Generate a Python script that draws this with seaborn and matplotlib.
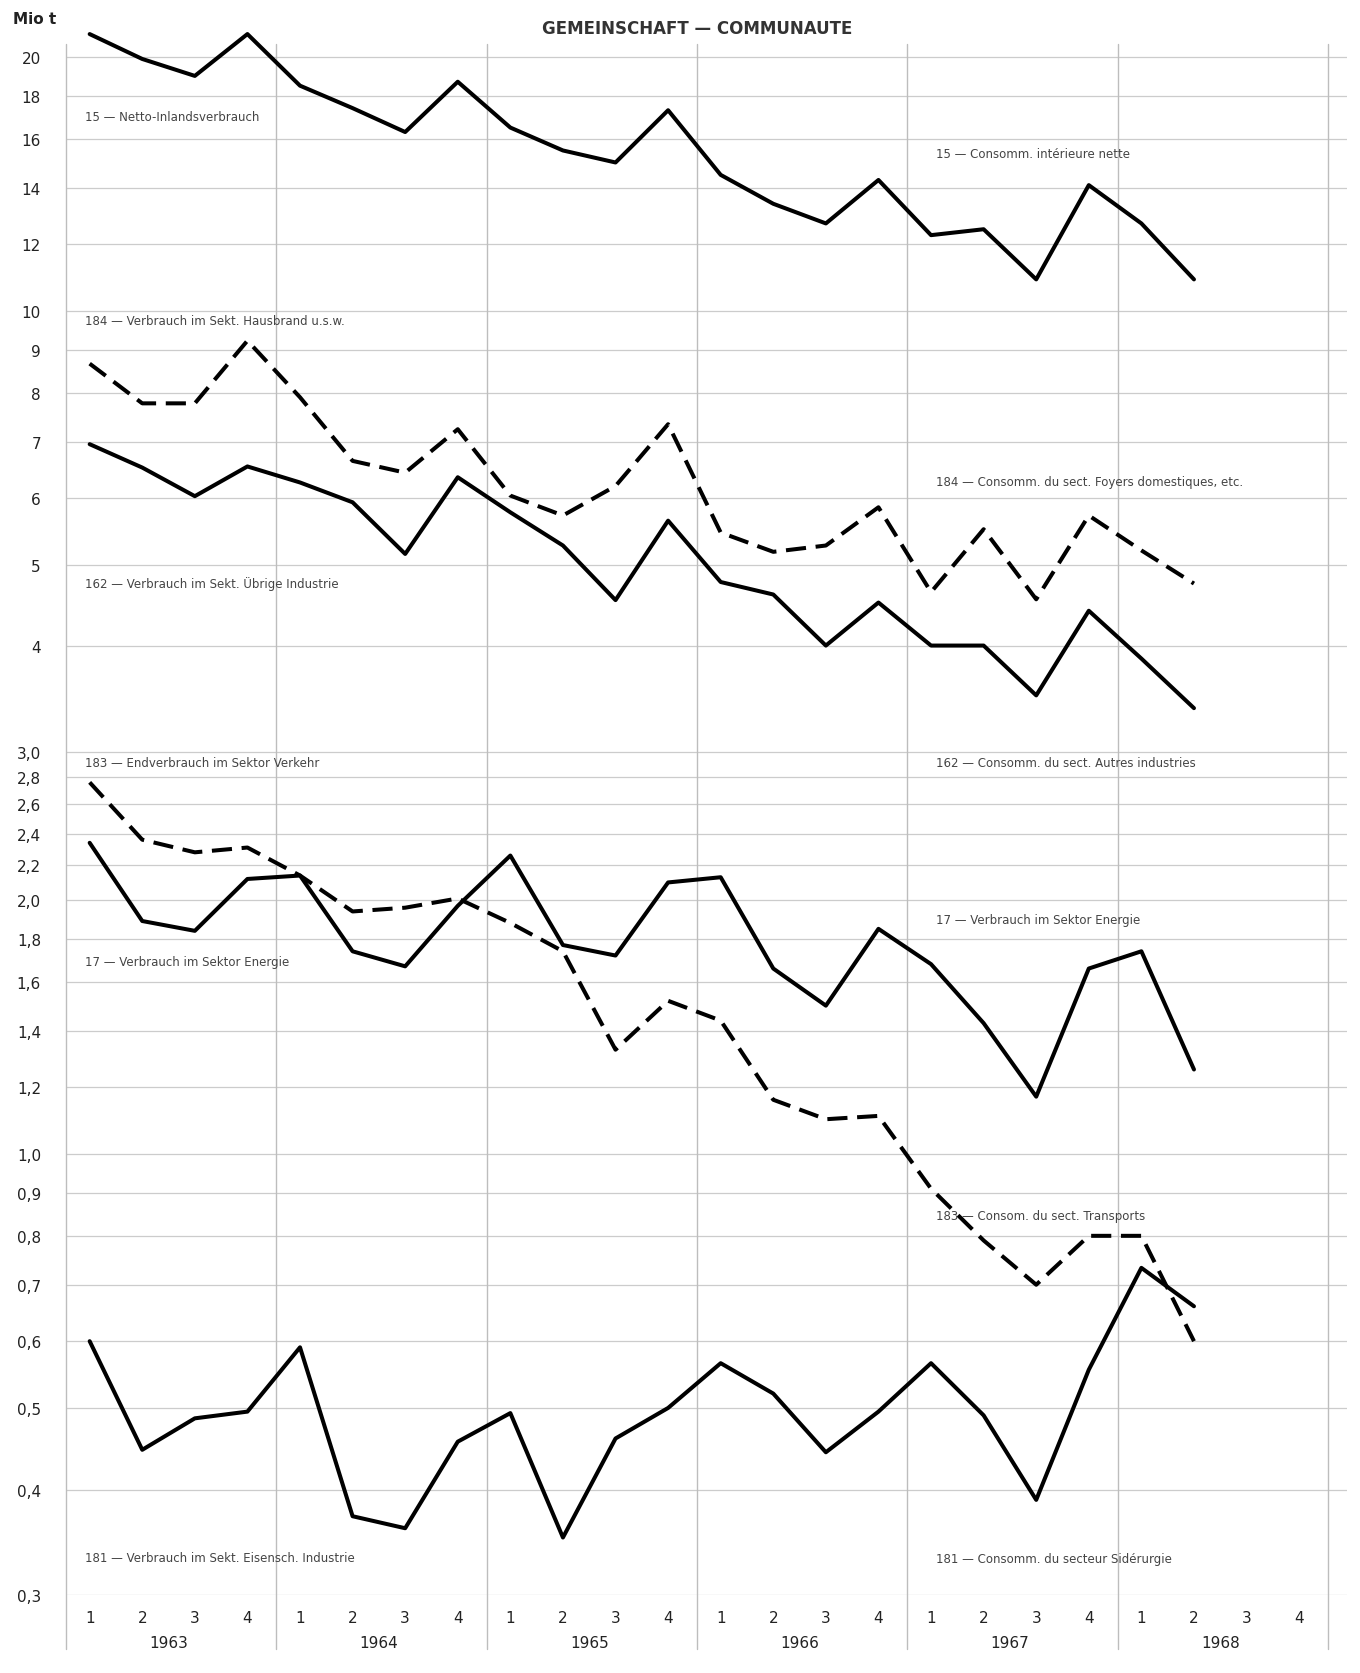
import numpy as np
import pandas as pd
import matplotlib
matplotlib.use("Agg")
import matplotlib.pyplot as plt
import matplotlib.transforms as mtransforms
from matplotlib.ticker import FixedLocator, NullLocator
import seaborn as sns

# ---------------- data ----------------
years = ["1963", "1964", "1965", "1966", "1967", "1968"]
quarter_labels = ["1", "2", "3", "4"]
n_points = 22  # 1963 Q1 .. 1968 Q2

s15 = [21.3, 19.9, 19.0, 21.3, 18.5, 17.4, 16.3, 18.7, 16.5, 15.5, 15.0, 17.3,
       14.5, 13.4, 12.7, 14.3, 12.3, 12.5, 10.9, 14.1, 12.7, 10.9]
s184 = [8.66, 7.77, 7.77, 9.22, 7.9, 6.64, 6.43, 7.24, 6.04, 5.72, 6.2, 7.34,
        5.46, 5.18, 5.27, 5.85, 4.64, 5.51, 4.55, 5.72, 5.20, 4.75]
s162 = [6.95, 6.52, 6.03, 6.54, 6.26, 5.93, 5.15, 6.35, 5.77, 5.27, 4.54, 5.64,
        4.77, 4.61, 4.01, 4.51, 4.01, 4.01, 3.50, 4.41, 3.87, 3.38]
s183 = [2.76, 2.36, 2.28, 2.31, 2.14, 1.94, 1.96, 2.01, 1.88, 1.74, 1.33, 1.52,
        1.44, 1.16, 1.10, 1.11, 0.91, 0.79, 0.70, 0.80, 0.80, 0.60]
s17 = [2.34, 1.89, 1.84, 2.12, 2.14, 1.74, 1.67, 1.97, 2.26, 1.77, 1.72, 2.10,
       2.13, 1.66, 1.50, 1.85, 1.68, 1.43, 1.17, 1.66, 1.74, 1.26]
s181 = [0.60, 0.446, 0.486, 0.495, 0.59, 0.372, 0.36, 0.456, 0.493, 0.351, 0.46, 0.50,
        0.565, 0.52, 0.443, 0.495, 0.565, 0.49, 0.389, 0.555, 0.733, 0.66]

series_names = ["15", "184", "162", "183", "17", "181"]
series_values = [s15, s184, s162, s183, s17, s181]
dashed_series = ["184", "183"]

ytick_values = [0.3, 0.4, 0.5, 0.6, 0.7, 0.8, 0.9, 1.0, 1.2, 1.4, 1.6, 1.8, 2.0,
                2.2, 2.4, 2.6, 2.8, 3.0, 4, 5, 6, 7, 8, 9, 10, 12, 14, 16, 18, 20]

# annotation texts (German left column, French right column)
labels_left = [
    ("15 — Netto-Inlandsverbrauch", 17.0),
    ("184 — Verbrauch im Sekt. Hausbrand u.s.w.", 9.73),
    ("162 — Verbrauch im Sekt. Übrige Industrie", 4.76),
    ("183 — Endverbrauch im Sektor Verkehr", 2.91),
    ("17 — Verbrauch im Sektor Energie", 1.69),
    ("181 — Verbrauch im Sekt. Eisensch. Industrie", 0.332),
]
labels_right = [
    ("15 — Consomm. intérieure nette", 15.36),
    ("184 — Consomm. du sect. Foyers domestiques, etc.", 6.28),
    ("162 — Consomm. du sect. Autres industries", 2.91),
    ("17 — Verbrauch im Sektor Energie", 1.90),
    ("183 — Consom. du sect. Transports", 0.846),
    ("181 — Consomm. du secteur Sidérurgie", 0.331),
]

# ---------------- build long table ----------------
rows = []
for name, vals in zip(series_names, series_values):
    for i, v in enumerate(vals):
        rows.append({"q": i, "value": v, "series": name})
df = pd.DataFrame(rows)

sns.set_style("white")
plt.rcParams["font.family"] = ["DejaVu Sans"]

W, H = 1360, 1674
fig = plt.figure(figsize=(W / 100, H / 100), dpi=100)
fig.patch.set_facecolor("white")
ax_left, ax_right, ax_top, ax_bottom = 66, 1347, 15, 1596
ax = fig.add_axes([ax_left / W, (H - ax_bottom) / H,
                   (ax_right - ax_left) / W, (ax_bottom - ax_top) / H])

palette = {n: "black" for n in series_names}
dashes = {n: ((5, 2.4) if n in dashed_series else "") for n in series_names}
sns.lineplot(data=df, x="q", y="value", hue="series", style="series",
             palette=palette, dashes=dashes, linewidth=2.9, legend=False,
             estimator=None, sort=False, ax=ax, zorder=5)

ax.set_yscale("log")
ax.set_ylim(0.3, 22.5)
x0 = -0.45
ax.set_xlim(x0, 23.91)

for s in ax.spines.values():
    s.set_visible(False)

grid_col = "#cccccc"
ax.yaxis.set_major_locator(FixedLocator(ytick_values))
ax.yaxis.set_minor_locator(NullLocator())
ax.set_yticklabels([(f"{v:.1f}".replace(".", ",") if v <= 3 else f"{int(v)}")
                    for v in ytick_values])
ax.yaxis.grid(True, color=grid_col, linewidth=0.9)
ax.tick_params(axis="y", length=13, width=0.9, color=grid_col, pad=5,
               labelsize=11, labelcolor="#222222", direction="out")

# x quarter ticks
qpos = np.arange(24)
ax.set_xticks(qpos)
ax.set_xticklabels([quarter_labels[i % 4] for i in qpos])
ax.tick_params(axis="x", length=0, pad=11, labelsize=11, labelcolor="#222222")
ax.set_xlabel("")
ax.set_ylabel("")

# year separators
for k in range(len(years) + 1):
    ax.axvline(x0 + 4 * k, ymin=-0.034, ymax=0.981, color="#bdbdbd",
               linewidth=1.0, clip_on=False, zorder=1)

trans = mtransforms.blended_transform_factory(ax.transData, ax.transAxes)
for k, yr in enumerate(years):
    ax.text(4 * k + 1.5, -0.030, yr, transform=trans, ha="center", va="center",
            fontsize=11, color="#222222")

for txt, yv in labels_left:
    ax.text(-0.09, yv, txt, ha="left", va="center", fontsize=8.5, color="#444444",
            zorder=6)
for txt, yv in labels_right:
    ax.text(16.1, yv, txt, ha="left", va="center", fontsize=8.5, color="#444444",
            zorder=6)

fig.text(697 / W, 1 - 29 / H, "GEMEINSCHAFT — COMMUNAUTE", ha="center",
         va="center", fontsize=12, fontweight="semibold", color="#333333")
fig.text(13 / W, 1 - 19 / H, "Mio t", ha="left", va="center", fontsize=11,
         fontweight="semibold", color="#222222")

fig.savefig("out.png", dpi=100, facecolor="white")
